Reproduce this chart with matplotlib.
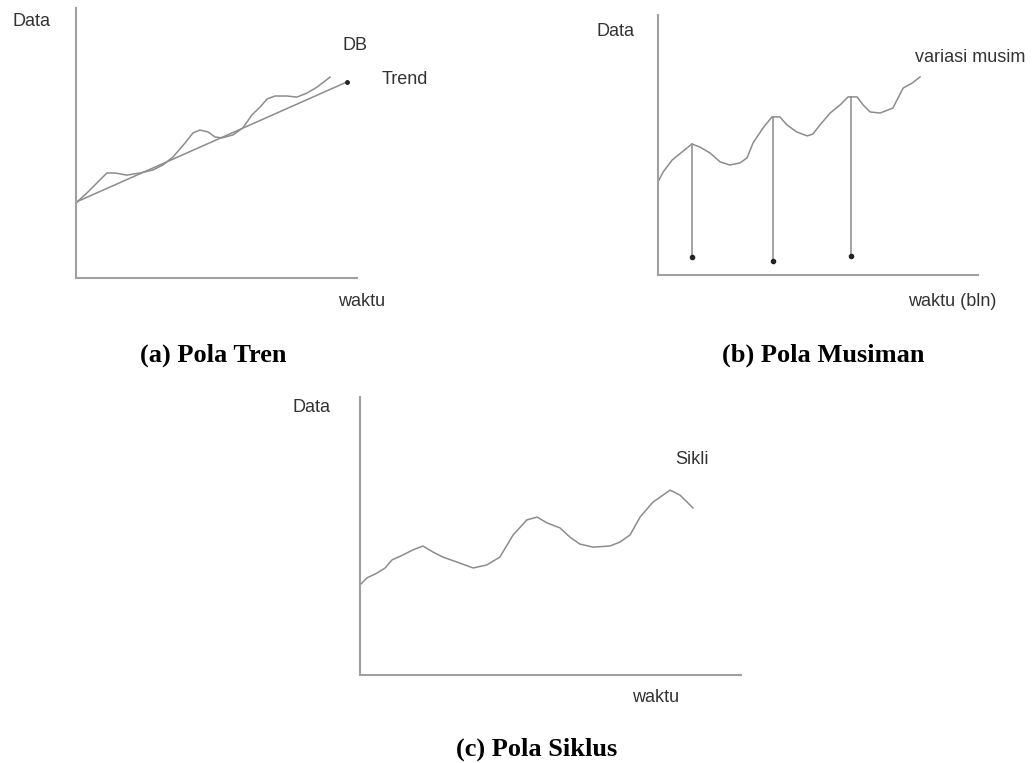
import matplotlib
matplotlib.use("Agg")
import matplotlib.pyplot as plt
import numpy as np

# (a) Pola Tren -- values in axis units (waktu 0..100, data 0..100)
tren_x = [0, 96.4]
tren_y = [28.1, 72.6]
db_x = [0, 3.9, 8.5, 11.0, 13.9, 18.1, 22.8, 27.4, 31.0, 34.5, 38.8, 41.6, 44.1,
        47.0, 49.5, 52.0, 55.9, 59.4, 62.6, 65.5, 68.0, 70.8, 75.1, 78.6, 82.2,
        85.8, 90.4]
db_y = [27.8, 31.5, 36.3, 38.9, 38.9, 38.1, 38.9, 40.0, 41.9, 44.8, 50.0, 53.7,
        54.8, 54.1, 52.2, 51.9, 53.0, 55.6, 60.4, 63.3, 66.3, 67.4, 67.4, 67.0,
        68.5, 70.7, 74.4]

# (b) Pola Musiman
musim_x = [0, 1.6, 4.4, 7.5, 10.6, 13.1, 16.3, 19.4, 22.5, 25.6, 27.8, 29.7,
           32.8, 35.6, 38.1, 40.3, 43.4, 46.6, 48.4, 50.6, 53.8, 56.9, 59.4,
           62.2, 64.1, 66.3, 69.4, 73.4, 76.6, 79.4, 81.9]
musim_y = [35.8, 39.6, 44.2, 47.3, 50.4, 49.2, 46.9, 43.5, 42.3, 43.1, 45.0,
           50.8, 56.5, 60.8, 60.8, 57.7, 55.0, 53.5, 54.2, 57.7, 62.3, 65.4,
           68.5, 68.5, 65.4, 62.7, 62.3, 64.2, 71.9, 73.8, 76.2]
puncak_x = [10.6, 35.9, 60.3]
puncak_bawah = [6.9, 5.4, 7.3]

# (c) Pola Siklus
siklus_x = [0, 1.8, 4.5, 6.6, 8.4, 11.3, 13.9, 16.5, 19.2, 21.8, 25.5, 29.7,
            33.3, 36.7, 40.2, 43.8, 46.5, 49.1, 52.5, 55.1, 57.7, 61.2, 65.6,
            68.2, 70.9, 73.5, 76.9, 81.4, 84.0, 87.4]
siklus_y = [32.4, 34.9, 36.7, 38.5, 41.4, 43.2, 45.0, 46.4, 44.2, 42.4, 40.6,
            38.5, 39.6, 42.4, 50.4, 55.8, 56.8, 54.7, 52.9, 49.6, 47.1, 46.0,
            46.4, 47.8, 50.4, 56.8, 62.2, 66.5, 64.7, 60.1]

W, H = 1032, 763
LINE = "#8c8c8c"
AXIS = "#a0a0a0"
TXT = "#333333"

fig = plt.figure(figsize=(W / 100, H / 100), dpi=100)


def panel(l, t, r, b):
    ax = fig.add_axes([l / W, 1 - b / H, (r - l) / W, (b - t) / H])
    ax.set_xlim(0, 100)
    ax.set_ylim(0, 100)
    for s in ["top", "right"]:
        ax.spines[s].set_visible(False)
    for s in ["left", "bottom"]:
        ax.spines[s].set_color(AXIS)
        ax.spines[s].set_linewidth(1.5)
    ax.set_xticks([])
    ax.set_yticks([])
    ax.patch.set_alpha(0)
    return ax


def label(x, y, s, ha="left", **kw):
    fig.text(x / W, 1 - y / H, s, ha=ha, va="center", color=TXT,
             family="Liberation Sans", fontsize=13, **kw)


def caption(x, y, s):
    fig.text(x / W, 1 - y / H, s, ha="center", va="center", color="black",
             family="Liberation Serif", fontweight="bold", fontsize=19)


# (a)
ax = panel(76, 8, 357, 278)
ax.plot(tren_x, tren_y, color=LINE, lw=1.1, clip_on=False)
ax.plot(db_x, db_y, color=LINE, lw=1.1, clip_on=False)
ax.plot(tren_x[-1], tren_y[-1], "o", color="#222222", ms=2.5, clip_on=False)
label(12, 21, "Data")
label(343, 46, "DB")
label(382, 80, "Trend")
label(338, 301, "waktu")
caption(213, 355, "(a) Pola Tren")

# (b)
ax = panel(658, 15, 978, 275)
ax.plot(musim_x, musim_y, color=LINE, lw=1.1, clip_on=False)
for px, pb in zip(puncak_x, puncak_bawah):
    top = np.interp(px, musim_x, musim_y)
    ax.plot([px, px], [top, pb], color=LINE, lw=1.1)
    ax.plot(px, pb, "o", color="#222222", ms=3)
label(596, 31, "Data")
label(915, 58, "variasi musim")
label(908, 301, "waktu (bln)")
caption(823, 355, "(b) Pola Musiman")

# (c)
ax = panel(360, 397, 741, 675)
ax.plot(siklus_x, siklus_y, color=LINE, lw=1.1, clip_on=False)
label(293, 408, "Data")
label(675, 460, "Sikli")
label(632, 697, "waktu")
caption(537, 749, "(c) Pola Siklus")

fig.savefig("out.png", dpi=100)
